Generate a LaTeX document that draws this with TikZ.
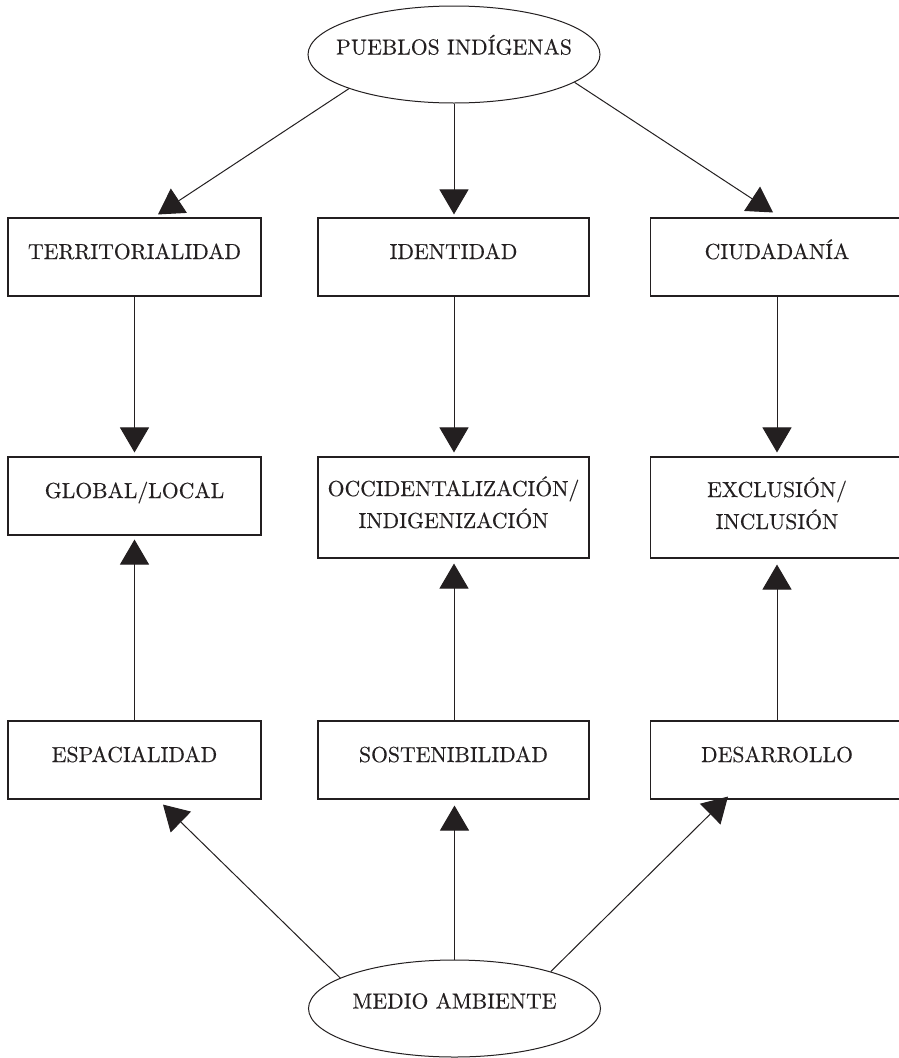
\documentclass[tikz,border=0pt]{standalone}
\usepackage{fontspec}
\setmainfont{lmroman10-regular.otf}[FakeBold=0.3]
\usetikzlibrary{arrows.meta,shapes.geometric}
\definecolor{ink}{HTML}{231F20}
\newcommand{\boxtxt}[1]{\parbox[t]{253pt}{\centering #1}}
\tikzset{
  lbfont/.style={font=\fontsize{21.7}{32}\selectfont},
  box/.style={draw=ink, text=ink, line width=1.1pt, rectangle, inner sep=0pt,
    minimum width=253pt, text height=41pt, text depth=37pt, lbfont},
  tallbox/.style={box, minimum width=271pt, text height=39pt, text depth=62pt},
  tallboxr/.style={box, text height=40pt, text depth=61pt},
  ell/.style={draw=ink, line width=1pt, ellipse, inner sep=0pt,
    minimum width=292pt, minimum height=97pt},
  lbl/.style={text=ink, inner sep=0pt, text height=0pt, text depth=0pt, lbfont},
  conn/.style={draw=ink, line width=1pt, -{Triangle[length=25pt,width=29pt]}},
}
\begin{document}
\begin{tikzpicture}[x=1pt,y=-1pt]
\useasboundingbox[fill=white] (0,0) rectangle (898,1058);
% ellipses
\node[ell, label={[lbl]center:PUEBLOS INDÍGENAS}] (pi) at (454,54.5) {};
\node[ell, label={[lbl]center:MEDIO AMBIENTE}] (me) at (454.5,1008.5) {};
% row 1
\node[box] (t1) at (134.5,257) {\boxtxt{TERRITORIALIDAD}};
\node[box, minimum width=271pt] (t2) at (453.5,257) {\boxtxt{IDENTIDAD}};
\node[box] (t3) at (777,257) {\boxtxt{CIUDADANÍA}};
% row 2
\node[box] (g1) at (134.5,496) {\boxtxt{GLOBAL/LOCAL}};
\node[tallbox] (g2) at (453.5,507.5) {\boxtxt{OCCIDENTALIZACIÓN/\\INDIGENIZACIÓN}};
\node[tallboxr] (g3) at (777,507.5) {\boxtxt{EXCLUSIÓN/\\INCLUSIÓN}};
% row 3
\node[box] (b1) at (134.5,760) {\boxtxt{ESPACIALIDAD}};
\node[box, minimum width=271pt] (b2) at (453.5,760) {\boxtxt{SOSTENIBILIDAD}};
\node[box] (b3) at (777,760) {\boxtxt{DESARROLLO}};
% free ends
\coordinate (e1) at ([xshift=23.5pt,yshift=3pt]t1.north);
\coordinate (e3) at ([xshift=-4pt,yshift=5pt]t3.north);
\coordinate (e10) at ([xshift=28.5pt,yshift=-5pt]b1.south);
\coordinate (e12) at ([xshift=-49pt,yshift=3pt]b3.south);
% connectors top
\draw[conn] (pi.198) -- (e1);
\draw[conn, shorten >=3pt] (pi.south) -- (pi.south |- t2.north);
\draw[conn] (pi.347) -- (e3);
\draw[conn, shorten >=4pt] (t1.south) -- (g1.north);
\draw[conn, shorten >=4pt] (t2.south -| pi.south) -- (pi.south |- g2.north);
\draw[conn, shorten >=4pt] (t3.south) -- (g3.north);
% connectors bottom
\draw[conn, shorten >=4pt] (b1.north) -- (g1.south);
\draw[conn, shorten >=5pt] (b2.north -| pi.south) -- (pi.south |- g2.south);
\draw[conn, shorten >=6pt] (b3.north) -- (g3.south);
\draw[conn] (me.165) -- (e10);
\draw[conn, shorten >=6pt] (me.north) -- (me.north |- b2.south);
\draw[conn] (me.21) -- (e12);
\end{tikzpicture}
\end{document}
